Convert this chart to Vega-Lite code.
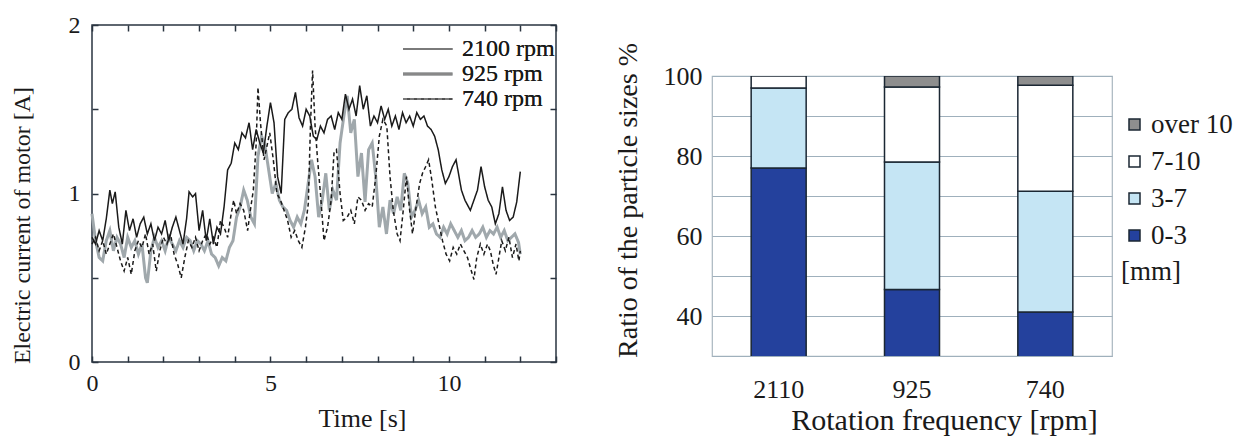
{
"$schema":"https://vega.github.io/schema/vega-lite/v6.json",
"padding":{"top":12,"left":9,"right":2,"bottom":2},
"spacing":55,
"resolve":{"scale":{"color":"independent"},"legend":{"color":"independent"}},
"config":{"font":"Liberation Serif","view":{"stroke":null},
"axis":{"labelFont":"Liberation Serif","titleFont":"Liberation Serif","labelColor":"#1a1a1a","titleColor":"#1a1a1a","titleFontWeight":"normal"},
"legend":{"labelFont":"Liberation Serif","titleFont":"Liberation Serif","labelColor":"#1a1a1a","titleColor":"#1a1a1a"}},
"datasets":{
"bars":[
{"rpm":"2110","size":"0-3","ord":1,"pct":77},{"rpm":"2110","size":"3-7","ord":2,"pct":20},{"rpm":"2110","size":"7-10","ord":3,"pct":3},
{"rpm":"925","size":"0-3","ord":1,"pct":46.6},{"rpm":"925","size":"3-7","ord":2,"pct":31.9},{"rpm":"925","size":"7-10","ord":3,"pct":18.75},{"rpm":"925","size":"over 10","ord":4,"pct":2.75},
{"rpm":"740","size":"0-3","ord":1,"pct":41},{"rpm":"740","size":"3-7","ord":2,"pct":30.2},{"rpm":"740","size":"7-10","ord":3,"pct":26.5},{"rpm":"740","size":"over 10","ord":4,"pct":2.3}
],
"lines":[
{"s":"925 rpm","t":0,"v":0.88},{"s":"925 rpm","t":0.1,"v":0.72},{"s":"925 rpm","t":0.2,"v":0.62},{"s":"925 rpm","t":0.3,"v":0.6},{"s":"925 rpm","t":0.4,"v":0.72},{"s":"925 rpm","t":0.5,"v":0.78},{"s":"925 rpm","t":0.6,"v":0.66},{"s":"925 rpm","t":0.7,"v":0.74},{"s":"925 rpm","t":0.8,"v":0.7},{"s":"925 rpm","t":0.9,"v":0.62},{"s":"925 rpm","t":1.0,"v":0.74},{"s":"925 rpm","t":1.1,"v":0.68},{"s":"925 rpm","t":1.2,"v":0.72},{"s":"925 rpm","t":1.3,"v":0.64},{"s":"925 rpm","t":1.4,"v":0.7},{"s":"925 rpm","t":1.5,"v":0.5},{"s":"925 rpm","t":1.55,"v":0.47},{"s":"925 rpm","t":1.65,"v":0.66},{"s":"925 rpm","t":1.75,"v":0.74},{"s":"925 rpm","t":1.85,"v":0.68},{"s":"925 rpm","t":1.95,"v":0.72},{"s":"925 rpm","t":2.05,"v":0.66},{"s":"925 rpm","t":2.15,"v":0.74},{"s":"925 rpm","t":2.25,"v":0.7},{"s":"925 rpm","t":2.35,"v":0.66},{"s":"925 rpm","t":2.45,"v":0.72},{"s":"925 rpm","t":2.55,"v":0.68},{"s":"925 rpm","t":2.65,"v":0.74},{"s":"925 rpm","t":2.75,"v":0.72},{"s":"925 rpm","t":2.85,"v":0.66},{"s":"925 rpm","t":2.95,"v":0.72},{"s":"925 rpm","t":3.05,"v":0.7},{"s":"925 rpm","t":3.15,"v":0.66},{"s":"925 rpm","t":3.25,"v":0.72},{"s":"925 rpm","t":3.35,"v":0.64},{"s":"925 rpm","t":3.45,"v":0.62},{"s":"925 rpm","t":3.55,"v":0.57},{"s":"925 rpm","t":3.65,"v":0.62},{"s":"925 rpm","t":3.75,"v":0.6},{"s":"925 rpm","t":3.85,"v":0.68},{"s":"925 rpm","t":3.95,"v":0.72},{"s":"925 rpm","t":4.05,"v":0.86},{"s":"925 rpm","t":4.15,"v":0.92},{"s":"925 rpm","t":4.25,"v":1.02},{"s":"925 rpm","t":4.35,"v":0.96},{"s":"925 rpm","t":4.45,"v":0.86},{"s":"925 rpm","t":4.55,"v":0.82},{"s":"925 rpm","t":4.65,"v":1.22},{"s":"925 rpm","t":4.75,"v":1.34},{"s":"925 rpm","t":4.85,"v":1.28},{"s":"925 rpm","t":4.95,"v":1.14},{"s":"925 rpm","t":5.05,"v":1.0},{"s":"925 rpm","t":5.15,"v":1.06},{"s":"925 rpm","t":5.25,"v":0.96},{"s":"925 rpm","t":5.35,"v":0.92},{"s":"925 rpm","t":5.45,"v":0.9},{"s":"925 rpm","t":5.55,"v":0.84},{"s":"925 rpm","t":5.65,"v":0.8},{"s":"925 rpm","t":5.75,"v":0.86},{"s":"925 rpm","t":5.85,"v":0.82},{"s":"925 rpm","t":5.95,"v":0.9},{"s":"925 rpm","t":6.05,"v":1.05},{"s":"925 rpm","t":6.15,"v":1.2},{"s":"925 rpm","t":6.25,"v":1.1},{"s":"925 rpm","t":6.35,"v":0.86},{"s":"925 rpm","t":6.45,"v":0.96},{"s":"925 rpm","t":6.55,"v":1.12},{"s":"925 rpm","t":6.65,"v":0.9},{"s":"925 rpm","t":6.75,"v":1.02},{"s":"925 rpm","t":6.85,"v":0.96},{"s":"925 rpm","t":6.95,"v":1.3},{"s":"925 rpm","t":7.05,"v":1.45},{"s":"925 rpm","t":7.15,"v":1.58},{"s":"925 rpm","t":7.25,"v":1.36},{"s":"925 rpm","t":7.35,"v":1.44},{"s":"925 rpm","t":7.45,"v":1.1},{"s":"925 rpm","t":7.55,"v":1.24},{"s":"925 rpm","t":7.65,"v":0.95},{"s":"925 rpm","t":7.75,"v":1.26},{"s":"925 rpm","t":7.85,"v":1.3},{"s":"925 rpm","t":7.95,"v":1.1},{"s":"925 rpm","t":8.05,"v":0.8},{"s":"925 rpm","t":8.15,"v":0.92},{"s":"925 rpm","t":8.25,"v":0.76},{"s":"925 rpm","t":8.35,"v":0.96},{"s":"925 rpm","t":8.45,"v":0.88},{"s":"925 rpm","t":8.55,"v":0.98},{"s":"925 rpm","t":8.65,"v":0.9},{"s":"925 rpm","t":8.75,"v":1.12},{"s":"925 rpm","t":8.85,"v":1.06},{"s":"925 rpm","t":8.95,"v":0.86},{"s":"925 rpm","t":9.05,"v":0.9},{"s":"925 rpm","t":9.15,"v":0.96},{"s":"925 rpm","t":9.25,"v":0.88},{"s":"925 rpm","t":9.35,"v":0.92},{"s":"925 rpm","t":9.45,"v":0.8},{"s":"925 rpm","t":9.55,"v":0.82},{"s":"925 rpm","t":9.65,"v":0.76},{"s":"925 rpm","t":9.75,"v":0.74},{"s":"925 rpm","t":9.85,"v":0.8},{"s":"925 rpm","t":9.95,"v":0.76},{"s":"925 rpm","t":10.05,"v":0.82},{"s":"925 rpm","t":10.15,"v":0.78},{"s":"925 rpm","t":10.25,"v":0.74},{"s":"925 rpm","t":10.35,"v":0.78},{"s":"925 rpm","t":10.45,"v":0.72},{"s":"925 rpm","t":10.55,"v":0.74},{"s":"925 rpm","t":10.65,"v":0.78},{"s":"925 rpm","t":10.75,"v":0.74},{"s":"925 rpm","t":10.85,"v":0.76},{"s":"925 rpm","t":10.95,"v":0.8},{"s":"925 rpm","t":11.05,"v":0.74},{"s":"925 rpm","t":11.15,"v":0.78},{"s":"925 rpm","t":11.25,"v":0.76},{"s":"925 rpm","t":11.35,"v":0.8},{"s":"925 rpm","t":11.45,"v":0.74},{"s":"925 rpm","t":11.55,"v":0.78},{"s":"925 rpm","t":11.65,"v":0.72},{"s":"925 rpm","t":11.75,"v":0.74},{"s":"925 rpm","t":11.85,"v":0.76},{"s":"925 rpm","t":11.95,"v":0.71},{"s":"925 rpm","t":12.0,"v":0.64},
{"s":"2100 rpm","t":0,"v":0.74},{"s":"2100 rpm","t":0.1,"v":0.7},{"s":"2100 rpm","t":0.2,"v":0.78},{"s":"2100 rpm","t":0.3,"v":0.72},{"s":"2100 rpm","t":0.4,"v":0.85},{"s":"2100 rpm","t":0.5,"v":1.02},{"s":"2100 rpm","t":0.57,"v":0.94},{"s":"2100 rpm","t":0.65,"v":1.01},{"s":"2100 rpm","t":0.75,"v":0.8},{"s":"2100 rpm","t":0.85,"v":0.7},{"s":"2100 rpm","t":0.95,"v":0.9},{"s":"2100 rpm","t":1.05,"v":0.78},{"s":"2100 rpm","t":1.15,"v":0.85},{"s":"2100 rpm","t":1.25,"v":0.74},{"s":"2100 rpm","t":1.35,"v":0.82},{"s":"2100 rpm","t":1.45,"v":0.86},{"s":"2100 rpm","t":1.55,"v":0.76},{"s":"2100 rpm","t":1.65,"v":0.82},{"s":"2100 rpm","t":1.75,"v":0.72},{"s":"2100 rpm","t":1.85,"v":0.8},{"s":"2100 rpm","t":1.95,"v":0.76},{"s":"2100 rpm","t":2.05,"v":0.84},{"s":"2100 rpm","t":2.15,"v":0.72},{"s":"2100 rpm","t":2.25,"v":0.8},{"s":"2100 rpm","t":2.35,"v":0.86},{"s":"2100 rpm","t":2.45,"v":0.78},{"s":"2100 rpm","t":2.55,"v":0.7},{"s":"2100 rpm","t":2.65,"v":0.85},{"s":"2100 rpm","t":2.72,"v":1.01},{"s":"2100 rpm","t":2.82,"v":0.98},{"s":"2100 rpm","t":2.9,"v":1.0},{"s":"2100 rpm","t":3.0,"v":0.78},{"s":"2100 rpm","t":3.1,"v":0.9},{"s":"2100 rpm","t":3.2,"v":0.72},{"s":"2100 rpm","t":3.3,"v":0.85},{"s":"2100 rpm","t":3.4,"v":0.7},{"s":"2100 rpm","t":3.5,"v":0.8},{"s":"2100 rpm","t":3.6,"v":0.76},{"s":"2100 rpm","t":3.7,"v":0.92},{"s":"2100 rpm","t":3.8,"v":1.14},{"s":"2100 rpm","t":3.9,"v":1.18},{"s":"2100 rpm","t":4.0,"v":1.3},{"s":"2100 rpm","t":4.1,"v":1.26},{"s":"2100 rpm","t":4.2,"v":1.36},{"s":"2100 rpm","t":4.3,"v":1.33},{"s":"2100 rpm","t":4.4,"v":1.42},{"s":"2100 rpm","t":4.5,"v":1.26},{"s":"2100 rpm","t":4.6,"v":1.38},{"s":"2100 rpm","t":4.7,"v":1.3},{"s":"2100 rpm","t":4.8,"v":1.24},{"s":"2100 rpm","t":4.9,"v":1.4},{"s":"2100 rpm","t":5.0,"v":1.54},{"s":"2100 rpm","t":5.1,"v":1.42},{"s":"2100 rpm","t":5.2,"v":1.1},{"s":"2100 rpm","t":5.3,"v":1.0},{"s":"2100 rpm","t":5.4,"v":1.44},{"s":"2100 rpm","t":5.5,"v":1.48},{"s":"2100 rpm","t":5.6,"v":1.5},{"s":"2100 rpm","t":5.7,"v":1.6},{"s":"2100 rpm","t":5.8,"v":1.45},{"s":"2100 rpm","t":5.9,"v":1.4},{"s":"2100 rpm","t":6.0,"v":1.5},{"s":"2100 rpm","t":6.1,"v":1.46},{"s":"2100 rpm","t":6.2,"v":1.34},{"s":"2100 rpm","t":6.3,"v":1.32},{"s":"2100 rpm","t":6.4,"v":1.4},{"s":"2100 rpm","t":6.5,"v":1.36},{"s":"2100 rpm","t":6.6,"v":1.44},{"s":"2100 rpm","t":6.7,"v":1.46},{"s":"2100 rpm","t":6.8,"v":1.38},{"s":"2100 rpm","t":6.9,"v":1.48},{"s":"2100 rpm","t":7.0,"v":1.44},{"s":"2100 rpm","t":7.1,"v":1.59},{"s":"2100 rpm","t":7.2,"v":1.5},{"s":"2100 rpm","t":7.3,"v":1.56},{"s":"2100 rpm","t":7.4,"v":1.46},{"s":"2100 rpm","t":7.5,"v":1.64},{"s":"2100 rpm","t":7.6,"v":1.5},{"s":"2100 rpm","t":7.7,"v":1.58},{"s":"2100 rpm","t":7.8,"v":1.4},{"s":"2100 rpm","t":7.9,"v":1.46},{"s":"2100 rpm","t":8.0,"v":1.42},{"s":"2100 rpm","t":8.1,"v":1.52},{"s":"2100 rpm","t":8.2,"v":1.44},{"s":"2100 rpm","t":8.3,"v":1.5},{"s":"2100 rpm","t":8.4,"v":1.4},{"s":"2100 rpm","t":8.5,"v":1.46},{"s":"2100 rpm","t":8.6,"v":1.38},{"s":"2100 rpm","t":8.7,"v":1.48},{"s":"2100 rpm","t":8.8,"v":1.42},{"s":"2100 rpm","t":8.9,"v":1.46},{"s":"2100 rpm","t":9.0,"v":1.4},{"s":"2100 rpm","t":9.1,"v":1.48},{"s":"2100 rpm","t":9.2,"v":1.44},{"s":"2100 rpm","t":9.3,"v":1.46},{"s":"2100 rpm","t":9.4,"v":1.4},{"s":"2100 rpm","t":9.5,"v":1.38},{"s":"2100 rpm","t":9.6,"v":1.34},{"s":"2100 rpm","t":9.7,"v":1.26},{"s":"2100 rpm","t":9.8,"v":1.14},{"s":"2100 rpm","t":9.9,"v":1.06},{"s":"2100 rpm","t":10.0,"v":1.1},{"s":"2100 rpm","t":10.1,"v":1.16},{"s":"2100 rpm","t":10.2,"v":1.2},{"s":"2100 rpm","t":10.3,"v":1.08},{"s":"2100 rpm","t":10.35,"v":1.02},{"s":"2100 rpm","t":10.45,"v":0.96},{"s":"2100 rpm","t":10.6,"v":0.9},{"s":"2100 rpm","t":10.7,"v":0.96},{"s":"2100 rpm","t":10.8,"v":1.02},{"s":"2100 rpm","t":10.9,"v":1.16},{"s":"2100 rpm","t":11.0,"v":1.04},{"s":"2100 rpm","t":11.1,"v":0.96},{"s":"2100 rpm","t":11.2,"v":0.92},{"s":"2100 rpm","t":11.3,"v":0.82},{"s":"2100 rpm","t":11.4,"v":0.88},{"s":"2100 rpm","t":11.5,"v":1.04},{"s":"2100 rpm","t":11.6,"v":0.9},{"s":"2100 rpm","t":11.7,"v":0.84},{"s":"2100 rpm","t":11.8,"v":0.86},{"s":"2100 rpm","t":11.9,"v":0.95},{"s":"2100 rpm","t":12.0,"v":1.13},
{"s":"740 rpm","t":0,"v":0.7},{"s":"740 rpm","t":0.1,"v":0.74},{"s":"740 rpm","t":0.2,"v":0.66},{"s":"740 rpm","t":0.3,"v":0.72},{"s":"740 rpm","t":0.4,"v":0.64},{"s":"740 rpm","t":0.5,"v":0.7},{"s":"740 rpm","t":0.6,"v":0.76},{"s":"740 rpm","t":0.7,"v":0.68},{"s":"740 rpm","t":0.8,"v":0.6},{"s":"740 rpm","t":0.9,"v":0.54},{"s":"740 rpm","t":1.0,"v":0.62},{"s":"740 rpm","t":1.1,"v":0.52},{"s":"740 rpm","t":1.2,"v":0.66},{"s":"740 rpm","t":1.3,"v":0.72},{"s":"740 rpm","t":1.4,"v":0.68},{"s":"740 rpm","t":1.5,"v":0.76},{"s":"740 rpm","t":1.6,"v":0.64},{"s":"740 rpm","t":1.7,"v":0.7},{"s":"740 rpm","t":1.8,"v":0.54},{"s":"740 rpm","t":1.9,"v":0.66},{"s":"740 rpm","t":2.0,"v":0.74},{"s":"740 rpm","t":2.1,"v":0.7},{"s":"740 rpm","t":2.2,"v":0.76},{"s":"740 rpm","t":2.3,"v":0.64},{"s":"740 rpm","t":2.4,"v":0.58},{"s":"740 rpm","t":2.5,"v":0.5},{"s":"740 rpm","t":2.6,"v":0.62},{"s":"740 rpm","t":2.7,"v":0.72},{"s":"740 rpm","t":2.8,"v":0.68},{"s":"740 rpm","t":2.9,"v":0.74},{"s":"740 rpm","t":3.0,"v":0.66},{"s":"740 rpm","t":3.1,"v":0.72},{"s":"740 rpm","t":3.2,"v":0.76},{"s":"740 rpm","t":3.3,"v":0.7},{"s":"740 rpm","t":3.4,"v":0.74},{"s":"740 rpm","t":3.5,"v":0.68},{"s":"740 rpm","t":3.6,"v":0.84},{"s":"740 rpm","t":3.7,"v":0.8},{"s":"740 rpm","t":3.8,"v":0.74},{"s":"740 rpm","t":3.9,"v":0.88},{"s":"740 rpm","t":3.97,"v":0.96},{"s":"740 rpm","t":4.05,"v":0.88},{"s":"740 rpm","t":4.15,"v":0.94},{"s":"740 rpm","t":4.25,"v":0.9},{"s":"740 rpm","t":4.36,"v":0.78},{"s":"740 rpm","t":4.45,"v":0.92},{"s":"740 rpm","t":4.52,"v":1.02},{"s":"740 rpm","t":4.6,"v":1.3},{"s":"740 rpm","t":4.65,"v":1.63},{"s":"740 rpm","t":4.72,"v":1.42},{"s":"740 rpm","t":4.82,"v":1.2},{"s":"740 rpm","t":4.92,"v":1.3},{"s":"740 rpm","t":4.98,"v":1.36},{"s":"740 rpm","t":5.08,"v":1.2},{"s":"740 rpm","t":5.18,"v":1.0},{"s":"740 rpm","t":5.28,"v":0.96},{"s":"740 rpm","t":5.38,"v":0.9},{"s":"740 rpm","t":5.48,"v":0.84},{"s":"740 rpm","t":5.58,"v":0.74},{"s":"740 rpm","t":5.68,"v":0.78},{"s":"740 rpm","t":5.78,"v":0.72},{"s":"740 rpm","t":5.88,"v":0.68},{"s":"740 rpm","t":5.98,"v":0.8},{"s":"740 rpm","t":6.06,"v":0.94},{"s":"740 rpm","t":6.12,"v":1.4},{"s":"740 rpm","t":6.18,"v":1.73},{"s":"740 rpm","t":6.25,"v":1.4},{"s":"740 rpm","t":6.32,"v":1.2},{"s":"740 rpm","t":6.4,"v":1.0},{"s":"740 rpm","t":6.5,"v":0.72},{"s":"740 rpm","t":6.6,"v":0.8},{"s":"740 rpm","t":6.7,"v":0.96},{"s":"740 rpm","t":6.78,"v":1.24},{"s":"740 rpm","t":6.85,"v":1.26},{"s":"740 rpm","t":6.95,"v":1.0},{"s":"740 rpm","t":7.04,"v":0.84},{"s":"740 rpm","t":7.15,"v":0.86},{"s":"740 rpm","t":7.25,"v":0.9},{"s":"740 rpm","t":7.35,"v":0.82},{"s":"740 rpm","t":7.45,"v":0.98},{"s":"740 rpm","t":7.55,"v":0.96},{"s":"740 rpm","t":7.65,"v":0.9},{"s":"740 rpm","t":7.75,"v":0.94},{"s":"740 rpm","t":7.85,"v":0.92},{"s":"740 rpm","t":7.95,"v":1.1},{"s":"740 rpm","t":8.05,"v":1.34},{"s":"740 rpm","t":8.15,"v":1.44},{"s":"740 rpm","t":8.26,"v":1.4},{"s":"740 rpm","t":8.35,"v":1.1},{"s":"740 rpm","t":8.44,"v":0.9},{"s":"740 rpm","t":8.55,"v":0.76},{"s":"740 rpm","t":8.63,"v":0.72},{"s":"740 rpm","t":8.72,"v":0.9},{"s":"740 rpm","t":8.81,"v":1.1},{"s":"740 rpm","t":8.9,"v":0.9},{"s":"740 rpm","t":8.98,"v":0.76},{"s":"740 rpm","t":9.08,"v":0.92},{"s":"740 rpm","t":9.18,"v":1.06},{"s":"740 rpm","t":9.26,"v":1.12},{"s":"740 rpm","t":9.35,"v":1.16},{"s":"740 rpm","t":9.43,"v":1.2},{"s":"740 rpm","t":9.52,"v":1.08},{"s":"740 rpm","t":9.62,"v":0.92},{"s":"740 rpm","t":9.72,"v":0.82},{"s":"740 rpm","t":9.82,"v":0.72},{"s":"740 rpm","t":9.92,"v":0.64},{"s":"740 rpm","t":10.02,"v":0.6},{"s":"740 rpm","t":10.12,"v":0.68},{"s":"740 rpm","t":10.22,"v":0.64},{"s":"740 rpm","t":10.32,"v":0.7},{"s":"740 rpm","t":10.42,"v":0.66},{"s":"740 rpm","t":10.52,"v":0.62},{"s":"740 rpm","t":10.6,"v":0.56},{"s":"740 rpm","t":10.7,"v":0.49},{"s":"740 rpm","t":10.78,"v":0.62},{"s":"740 rpm","t":10.88,"v":0.7},{"s":"740 rpm","t":10.98,"v":0.64},{"s":"740 rpm","t":11.08,"v":0.7},{"s":"740 rpm","t":11.16,"v":0.66},{"s":"740 rpm","t":11.24,"v":0.58},{"s":"740 rpm","t":11.32,"v":0.52},{"s":"740 rpm","t":11.4,"v":0.62},{"s":"740 rpm","t":11.48,"v":0.72},{"s":"740 rpm","t":11.58,"v":0.66},{"s":"740 rpm","t":11.68,"v":0.74},{"s":"740 rpm","t":11.78,"v":0.62},{"s":"740 rpm","t":11.88,"v":0.7},{"s":"740 rpm","t":11.96,"v":0.6},{"s":"740 rpm","t":12.0,"v":0.66}
]},
"hconcat":[
{
"width":464,"height":337,
"view":{"stroke":"#2a3440","strokeWidth":1.5},
"data":{"name":"lines"},
"layer":[
{"mark":{"type":"line","interpolate":"linear"},
"encoding":{
"x":{"field":"t","type":"quantitative","scale":{"domain":[0,13],"nice":false},
"axis":{"orient":"bottom","title":"Time [s]","titleX":270,"values":[0,1,2,3,4,5,6,7,8,9,10,11,12,13],"labelExpr":"datum.value % 5 == 0 ? format(datum.value,'d') : ''","tickSize":-6,"tickColor":"#2a3440","tickWidth":1.5,"domain":false,"grid":false,"labelFontSize":24,"titleFontSize":26,"labelPadding":15,"titlePadding":10,"labelFlush":false}},
"y":{"field":"v","type":"quantitative","scale":{"domain":[0,2],"nice":false},
"axis":{"orient":"left","title":"Electric current of motor [A]","titleY":200,"values":[0,0.5,1,1.5,2],"labelExpr":"datum.value % 1 == 0 ? format(datum.value,'d') : ''","tickSize":-6,"tickColor":"#2a3440","tickWidth":1.5,"domain":false,"grid":false,"labelFontSize":24,"titleFontSize":24,"labelPadding":18,"titlePadding":34,"labelFlush":false}},
"color":{"field":"s","type":"nominal","scale":{"domain":["2100 rpm","925 rpm","740 rpm"],"range":["#1a1a1a","#a0a8ac","#1a1a1a"]},
"legend":{"title":null,"orient":"none","legendX":341,"legendY":12,"symbolType":"M-28,0H5","symbolSize":9,"symbolStrokeWidth":{"expr":"datum.value == '925 rpm' ? 3 : 1.6"},"labelFontSize":24,"labelOffset":5,"rowPadding":1,"padding":0}},
"strokeDash":{"field":"s","type":"nominal","scale":{"domain":["2100 rpm","925 rpm","740 rpm"],"range":[[1,0],[1,0],[4,3]]},
"legend":{"title":null,"orient":"none","legendX":341,"legendY":12,"symbolType":"M-28,0H5","symbolSize":9,"symbolStrokeWidth":{"expr":"datum.value == '925 rpm' ? 3 : 1.6"},"labelFontSize":24,"labelOffset":5,"rowPadding":1,"padding":0}},
"strokeWidth":{"condition":{"test":"datum.s === '925 rpm'","value":3},"value":1.5}
}},
{"mark":{"type":"point","opacity":0},
"encoding":{
"x":{"field":"t","type":"quantitative","axis":{"orient":"top","title":null,"labels":false,"values":[0,1,2,3,4,5,6,7,8,9,10,11,12,13],"tickSize":-6,"tickColor":"#2a3440","tickWidth":1.5,"domain":false,"grid":false}},
"y":{"field":"v","type":"quantitative","axis":{"orient":"right","title":null,"labels":false,"values":[0,0.5,1,1.5,2],"tickSize":-6,"tickColor":"#2a3440","tickWidth":1.5,"domain":false,"grid":false}}
}}
]
},
{
"spacing":0,
"vconcat":[
{"width":10,"height":16,"data":{"values":[]},"mark":"point"},
{
"width":400,"height":280,
"view":{"stroke":"#a9b6bf","strokeWidth":1.2},
"data":{"name":"bars"},
"mark":{"type":"bar","stroke":"#1b2733","strokeWidth":1.5,"clip":true},
"encoding":{
"x":{"field":"rpm","type":"nominal","sort":["2110","925","740"],"scale":{"paddingInner":0.5875,"paddingOuter":0.29375},
"axis":{"title":"Rotation frequency [rpm]","titleX":232,"labelAngle":0,"ticks":false,"domain":false,"labelFontSize":26,"titleFontSize":30,"labelPadding":20,"titlePadding":3}},
"y":{"field":"pct","type":"quantitative","stack":"zero","scale":{"domain":[30,100],"nice":false},
"axis":{"title":"Ratio of the particle sizes %","titleY":124,"values":[30,40,50,60,70,80,90,100],"labelExpr":"datum.value % 20 == 0 ? datum.label : ''","ticks":false,"domain":false,"gridColor":"#9fb0bc","gridWidth":1.2,"labelFontSize":26,"titleFontSize":28,"labelPadding":10,"titlePadding":21}},
"color":{"field":"size","type":"nominal","scale":{"domain":["over 10","7-10","3-7","0-3"],"range":["#8e8e8e","#ffffff","#c5e5f4","#24419d"]},
"legend":{"title":"[mm]","titleOrient":"bottom","titleAnchor":"start","titleFontSize":27,"titleFontWeight":"normal","titlePadding":10,"orient":"none","legendX":409,"legendY":86,"symbolType":"square","symbolSize":121,"symbolStrokeColor":"#1b2733","symbolStrokeWidth":1.5,"labelFontSize":27,"labelOffset":3,"rowPadding":9,"padding":0}},
"order":{"field":"ord","type":"quantitative"}
}
}
]
}
]
}
